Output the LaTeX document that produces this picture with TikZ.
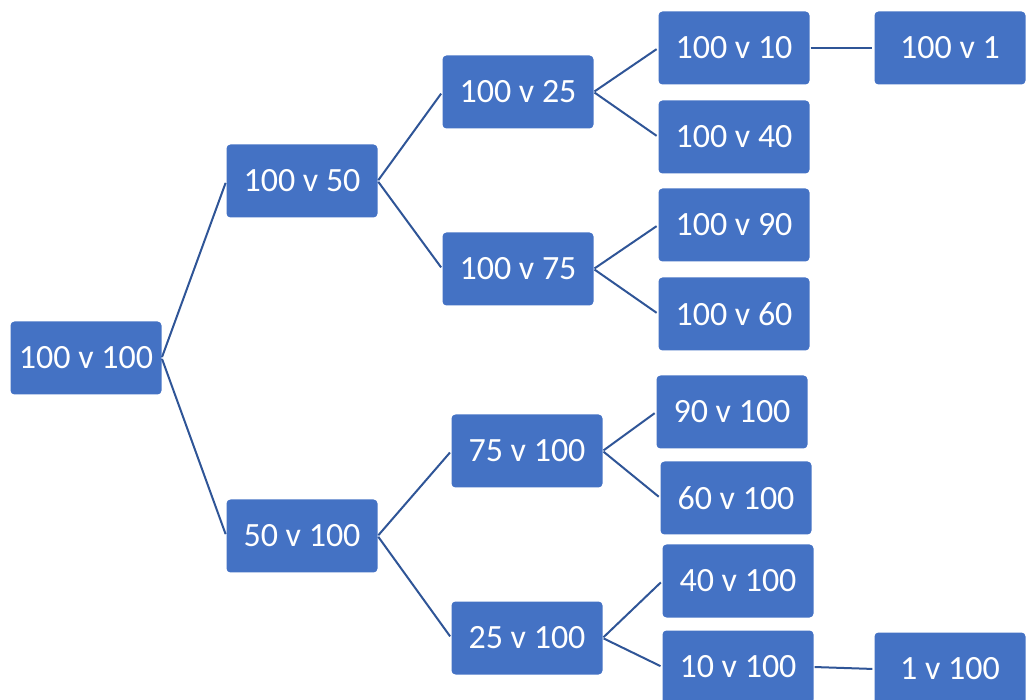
\documentclass[tikz,border=0pt]{standalone}
\usepackage{xcolor}
\usepackage{fontspec}
\setmainfont{Carlito}
\usepackage{tikz}
\definecolor{boxblue}{HTML}{4472C4}
\definecolor{lineblue}{HTML}{2F5597}
\tikzset{
  score/.style={fill=boxblue, text=white, rounded corners=4pt, minimum width=151pt, minimum height=73pt,
    inner sep=0pt, font=\fontsize{34}{40}\selectfont},
  branch/.style={draw=lineblue, line width=2pt, shorten >=2pt, shorten <=1pt}
}

\begin{document}
\begin{tikzpicture}[x=1pt, y=-1pt]
        \useasboundingbox (0,0) rectangle (1029,700);
        \node[score] (root) at (86,358) {100 v 100};
        \node[score] (a50) at (302,181) {100 v 50};
        \node[score] (b50) at (302,536) {50 v 100};
        \node[score] (a25) at (518,92) {100 v 25};
        \node[score] (a75) at (518,269) {100 v 75};
        \node[score] (b75) at (527,451) {75 v 100};
        \node[score] (b25) at (527,638) {25 v 100};
        \node[score] (a10) at (734,48) {100 v 10};
        \node[score] (a40) at (734,137) {100 v 40};
        \node[score] (a90) at (734,225) {100 v 90};
        \node[score] (a60) at (734,314) {100 v 60};
        \node[score] (b90) at (732,412) {90 v 100};
        \node[score] (b60) at (736,498) {60 v 100};
        \node[score] (b40) at (738,581) {40 v 100};
        \node[score] (b10) at (738,667) {10 v 100};
        \node[score] (a1) at (950,48) {100 v 1};
        \node[score] (b1) at (950,669) {1 v 100};
        % branches
        \foreach \p/\c in {root/a50, root/b50, a50/a25, a50/a75, b50/b75, b50/b25,
                           a25/a10, a25/a40, a75/a90, a75/a60, b75/b90, b75/b60,
                           b25/b40, b25/b10, a10/a1, b10/b1}
            \draw[branch] (\p.east) -- (\c.west);
    \end{tikzpicture}
\end{document}
